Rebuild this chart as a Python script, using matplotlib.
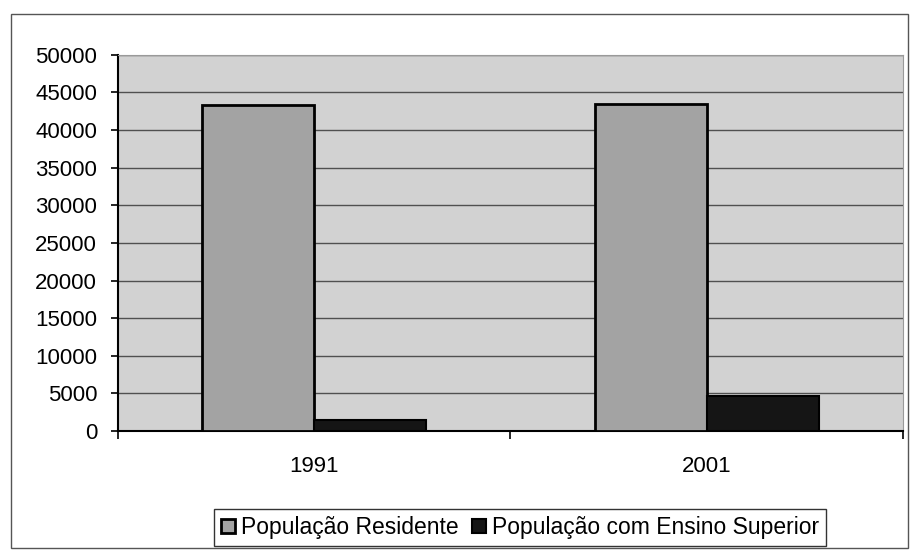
import matplotlib.pyplot as plt
from matplotlib.patches import Rectangle

plt.rcParams['font.family'] = ['Liberation Sans', 'DejaVu Sans']

anos = ['1991', '2001']
residente = [43300, 43400]
ensino_superior = [1500, 4600]

fig = plt.figure(figsize=(9.14, 5.54), dpi=100)
ax = fig.add_axes([0.129, 0.222, 0.859, 0.679])
ax.set_facecolor('#d2d2d2')

w = 0.285
pos = range(len(anos))
ax.bar([p - w / 2 for p in pos], residente, width=w, color='#a3a3a3',
       edgecolor='black', linewidth=2, label='População Residente', zorder=3)
ax.bar([p + w / 2 for p in pos], ensino_superior, width=w, color='#151515',
       edgecolor='black', linewidth=1.5, label='População com Ensino Superior', zorder=3)

ax.set_xlim(-0.5, len(anos) - 0.5)
ax.set_ylim(0, 50000)
ax.set_yticks(range(0, 50001, 5000))
ax.yaxis.grid(True, color='#505050', linewidth=1)
ax.set_axisbelow(True)

# ticks on category boundaries, labels in the middle
ax.set_xticks([-0.5, 0.5, 1.5])
ax.set_xticklabels([])
ax.set_xticks(list(pos), minor=True)
ax.set_xticklabels(anos, minor=True, fontsize=16)
ax.tick_params(axis='x', which='major', length=6, width=1.2, direction='out')
ax.tick_params(axis='x', which='minor', length=0, pad=18)
ax.tick_params(axis='y', length=5, width=1.2, pad=10, labelsize=16)

for s in ['top', 'right']:
    ax.spines[s].set_color('#9a9a9a')
    ax.spines[s].set_linewidth(0.8)
for s in ['left', 'bottom']:
    ax.spines[s].set_linewidth(1.5)

leg = fig.legend(loc='center', bbox_to_anchor=(0.569, 0.048), ncol=2, fontsize=16.5,
                 frameon=True, fancybox=False, edgecolor='black', handlelength=0.6,
                 handleheight=0.6, handletextpad=0.25, columnspacing=0.6,
                 borderpad=0.3)
leg.get_frame().set_linewidth(1)

fig.patches.append(Rectangle((11 / 914, 6 / 554), 897 / 914, 534 / 554,
                             transform=fig.transFigure, fill=False,
                             edgecolor='#555555', linewidth=1))

fig.savefig('out.png', dpi=100)
